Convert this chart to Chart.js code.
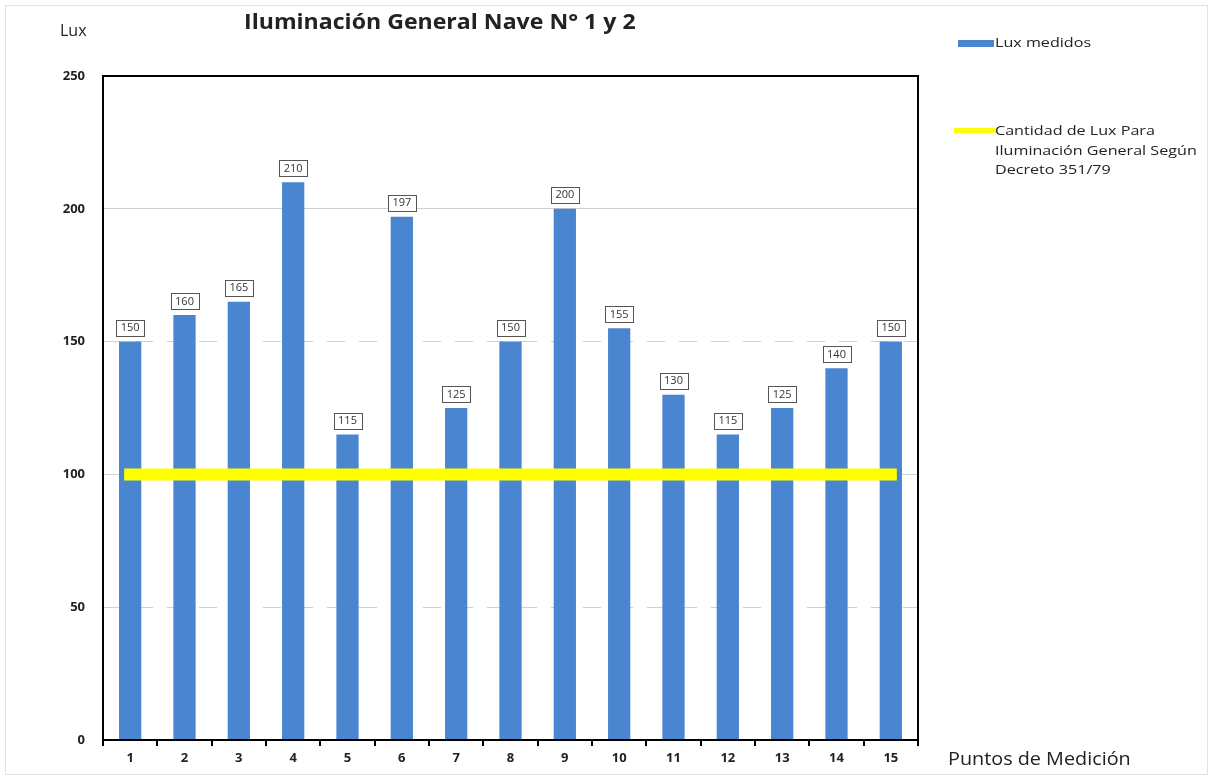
<!DOCTYPE html>
<html>
<head>
<meta charset="utf-8">
<script src="https://cdn.jsdelivr.net/npm/chart.js@4"></script>
<style>
  body { margin: 0; background: #fff; font-family: "Open Sans", sans-serif; }
  #wrap { position: relative; width: 1213px; height: 780px; }
  #frame { position: absolute; left: 5px; top: 5px; width: 1201px; height: 768px; border: 1px solid #e2e2e2; }
  .txt { position: absolute; color: #222; white-space: nowrap; transform-origin: 0 0; }
  #title { left: 244px; top: 7px; font-size: 21px; font-weight: bold; transform: scaleX(1.1); }
  #ylabel { left: 60px; top: 19px; font-size: 16px; }
  #xlabel { left: 948px; top: 746px; font-size: 18px; transform: scaleX(1.1); }
  .leg { position: absolute; font-size: 13px; color: #222; line-height: 19.5px; white-space: nowrap; transform: scaleX(1.24); transform-origin: 0 0; }
  .sw { position: absolute; }
</style>
</head>
<body>
<div id="wrap">
  <div id="frame"></div>
  <canvas id="chart" width="1213" height="780"></canvas>
  <div class="txt" id="title">Iluminación General Nave N° 1 y 2</div>
  <div class="txt" id="ylabel">Lux</div>
  <div class="txt" id="xlabel">Puntos de Medición</div>
  <div class="sw" style="left:958px;top:40px;width:36px;height:7px;background:#4A86D0"></div>
  <div class="leg" style="left:995px;top:33px">Lux medidos</div>
  <div class="sw" style="left:954px;top:128px;width:42px;height:5px;background:#FFFF00"></div>
  <div class="leg" style="left:995px;top:121px">Cantidad de Lux Para<br>Iluminación General Según<br>Decreto 351/79</div>
</div>
<script>
// measurement points
const puntos = ["1", "2", "3", "4", "5", "6", "7", "8", "9", "10", "11", "12", "13", "14", "15"];
const luxMedidos = [150, 160, 165, 210, 115, 197, 125, 150, 200, 155, 130, 115, 125, 140, 150];
// required lux (Decreto 351/79)
const luxRequeridos = [100, 100, 100, 100, 100, 100, 100, 100, 100, 100, 100, 100, 100, 100, 100];
const yTicks = [0, 50, 100, 150, 200, 250];

const blue = "#4A86D0";
const yellow = "#FFFF00";

// boxed value labels above the bars
const valueBoxes = {
  id: "valueBoxes",
  afterDatasetsDraw(chart) {
    const ctx = chart.ctx;
    const meta = chart.getDatasetMeta(0);
    ctx.save();
    ctx.font = "11px 'Open Sans'";
    ctx.textAlign = "center";
    ctx.textBaseline = "middle";
    meta.data.forEach((bar, i) => {
      const txt = String(luxMedidos[i]);
      const w = ctx.measureText(txt).width + 9;
      const h = 16;
      const cy = bar.y - 6 - h / 2;
      ctx.fillStyle = "#fff";
      ctx.fillRect(bar.x - w / 2, cy - h / 2, w, h);
      ctx.strokeStyle = "#555";
      ctx.lineWidth = 1;
      ctx.strokeRect(Math.round(bar.x - w / 2) + 0.5, Math.round(cy - h / 2) + 0.5, Math.round(w), h);
      ctx.fillStyle = "#333";
      ctx.fillText(txt, bar.x, cy + 0.5);
    });
    ctx.restore();
  }
};

// black frame around the plot area
const plotFrame = {
  id: "plotFrame",
  afterDraw(chart) {
    const a = chart.chartArea;
    const ctx = chart.ctx;
    ctx.save();
    ctx.strokeStyle = "#000";
    ctx.lineWidth = 2;
    ctx.strokeRect(a.left, a.top, a.right - a.left, a.bottom - a.top);
    ctx.restore();
  }
};

const ctx = document.getElementById("chart").getContext("2d");
new Chart(ctx, {
  data: {
    labels: puntos,
    datasets: [
      {
        type: "bar",
        label: "Lux medidos",
        data: luxMedidos,
        backgroundColor: blue,
        barPercentage: 0.41,
        categoryPercentage: 1,
        order: 2
      },
      {
        type: "line",
        label: "Cantidad de Lux Para Iluminación General Según Decreto 351/79",
        data: luxRequeridos,
        borderColor: yellow,
        borderWidth: 12,
        borderCapStyle: "square",
        pointRadius: 0,
        order: 1
      }
    ]
  },
  options: {
    responsive: false,
    animation: false,
    layout: { padding: { left: 0, right: 295, top: 76, bottom: 0 } },
    plugins: {
      legend: { display: false },
      tooltip: { enabled: false }
    },
    scales: {
      x: {
        offset: true,
        border: { display: false },
        grid: { drawOnChartArea: false, drawTicks: true, tickLength: 6, color: "#000", lineWidth: 2, offset: true },
        ticks: { color: "#222", font: { family: "Open Sans", size: 13, weight: "bold" }, padding: 4 },
        afterFit: (s) => { s.height = 40; }
      },
      y: {
        min: 0,
        max: 250,
        afterBuildTicks: (s) => { s.ticks = yTicks.map((v) => ({ value: v })); },
        border: { display: false, dash: (c) => (c.tick && (c.tick.value === 150 || c.tick.value === 50) ? [18, 14] : []) },
        grid: { color: "#d0d0d0", lineWidth: 1, drawTicks: false },
        ticks: { color: "#222", font: { family: "Open Sans", size: 13, weight: "bold" }, padding: 18 },
        afterFit: (s) => { s.width = 103; }
      }
    }
  },
  plugins: [valueBoxes, plotFrame]
});
</script>
</body>
</html>
